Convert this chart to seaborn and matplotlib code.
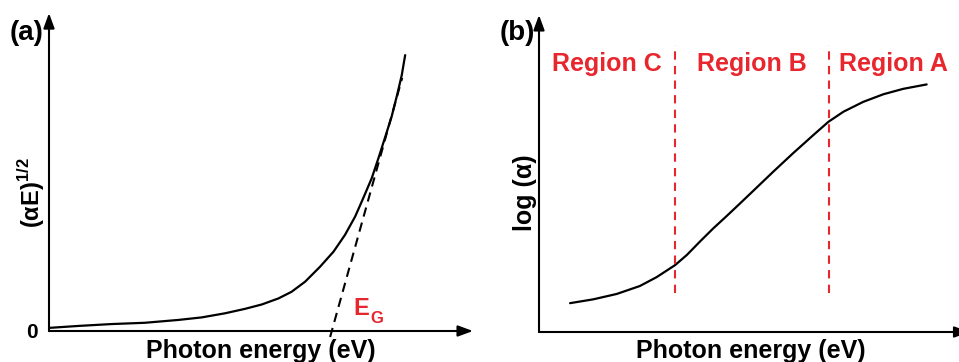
import numpy as np
import pandas as pd
import seaborn as sns
import matplotlib.pyplot as plt

sns.set_theme(style='white')
plt.rcParams['font.family'] = ['Liberation Sans', 'DejaVu Sans']
plt.rcParams['font.weight'] = 'bold'
plt.rcParams['text.color'] = 'black'
plt.rcParams['ytick.color'] = 'black'
plt.rcParams['mathtext.fontset'] = 'custom'
plt.rcParams['mathtext.rm'] = 'Liberation Sans:bold'
plt.rcParams['mathtext.bf'] = 'Liberation Sans:bold'

RED = '#e8262d'

# (a) Tauc plot, arbitrary units
tauc_x = [0.02, 0.69, 1.48, 2.26, 3.05, 3.60, 4.15, 4.62, 5.02, 5.41, 5.72, 6.04,
          6.39, 6.71, 6.98, 7.22, 7.41, 7.61, 7.77, 7.92, 8.08, 8.21, 8.32, 8.40]
tauc_y = [0.10, 0.16, 0.22, 0.26, 0.35, 0.43, 0.56, 0.70, 0.84, 1.03, 1.24, 1.56,
          2.03, 2.51, 3.04, 3.62, 4.20, 4.83, 5.47, 6.10, 6.78, 7.47, 8.10, 8.73]
tangent_x = [6.63, 8.33]
tangent_y = [-0.19, 8.01]

# (b) absorption edge, log scale, arbitrary units
abs_x = [0.74, 1.29, 1.85, 2.40, 2.80, 3.24, 3.52, 3.83, 4.15, 4.47, 4.75,
         5.02, 5.58, 6.05, 6.53, 6.89, 7.25, 7.72, 8.20, 8.67, 9.23]
abs_y = [0.91, 1.03, 1.20, 1.45, 1.73, 2.11, 2.43, 2.85, 3.27, 3.66, 4.01,
         4.35, 5.06, 5.64, 6.21, 6.63, 6.95, 7.26, 7.50, 7.67, 7.81]
region_edges = [3.24, 6.90]
region_top = 9.05
region_bottom = 1.23
region_names = ['Region C', 'Region B', 'Region A']

df_a = pd.DataFrame({'E': tauc_x, 'y': tauc_y})
df_b = pd.DataFrame({'E': abs_x, 'y': abs_y})

fig = plt.figure(figsize=(9.59, 3.62), dpi=100)
ax_a = fig.add_axes([49 / 959, 31 / 362, 424 / 959, 316 / 362])
ax_b = fig.add_axes([539 / 959, 30 / 362, 420 / 959, 317 / 362])

arrow = dict(arrowstyle='-|>,head_length=0.6,head_width=0.22', lw=1.5, color='black',
             shrinkA=0, shrinkB=0, mutation_scale=15)


def draw_axes(ax, x_tip, y_tip):
    ax.set_xlim(0, 10)
    ax.set_ylim(0, 10)
    for s in ax.spines.values():
        s.set_visible(False)
    ax.set_xticks([])
    ax.set_yticks([])
    ax.annotate('', xy=(x_tip, 0), xytext=(0, 0), xycoords='axes fraction',
                arrowprops=arrow, annotation_clip=False)
    ax.annotate('', xy=(0, y_tip), xytext=(0, 0), xycoords='axes fraction',
                arrowprops=arrow, annotation_clip=False)


# panel (a)
draw_axes(ax_a, 1.0, 1.006)
sns.lineplot(data=df_a, x='E', y='y', ax=ax_a, color='black', lw=1.6, sort=False,
             estimator=None, solid_joinstyle='round')
ax_a.plot(tangent_x, tangent_y, color='black', lw=1.5, ls=(0, (4.5, 3)), clip_on=False)
ax_a.set_yticks([0])
ax_a.set_yticklabels(['0'], fontsize=15, fontweight='bold')
ax_a.tick_params(axis='y', length=0, pad=8)
ax_a.text(7.17, 0.51, 'E', color=RED, fontsize=17, fontweight='bold')
ax_a.text(7.57, 0.25, 'G', color=RED, fontsize=12, fontweight='bold')
ax_a.set_xlabel('')
ax_a.set_ylabel('')

# panel (b)
draw_axes(ax_b, 1.025, 1.0)
sns.lineplot(data=df_b, x='E', y='y', ax=ax_b, color='black', lw=1.6, sort=False,
             estimator=None, solid_joinstyle='round')
ax_b.vlines(region_edges, region_bottom, region_top, colors=RED, lw=1.5, linestyles=(0, (4, 3)))
bounds = [0] + region_edges + [10]
for i, name in enumerate(region_names):
    ax_b.text((bounds[i] + bounds[i + 1]) / 2, 8.24, name, color=RED, fontsize=18,
              fontweight='bold', ha='center', va='baseline')
ax_b.set_xlabel('')
ax_b.set_ylabel('')

# axis titles, placed in figure pixels
fig.text(261 / 959, 4 / 362, 'Photon energy (eV)', ha='center', va='baseline', fontsize=18, fontweight='bold')
fig.text(751 / 959, 4 / 362, 'Photon energy (eV)', ha='center', va='baseline', fontsize=18, fontweight='bold')
fig.text(31.5 / 959, 1 - 193 / 362, '(αE)$^{1/2}$', rotation=90, ha='center', va='center',
         fontsize=17, fontweight='bold')
fig.text(525 / 959, 1 - 193 / 362, 'log (α)', rotation=90, ha='center', va='center',
         fontsize=18, fontweight='bold')
fig.text(10 / 959, 1 - 32.5 / 362, '(a)', ha='left', va='center', fontsize=20, fontweight='bold')
fig.text(500 / 959, 1 - 32.5 / 362, '(b)', ha='left', va='center', fontsize=20, fontweight='bold')

fig.savefig('out.png', dpi=100)
